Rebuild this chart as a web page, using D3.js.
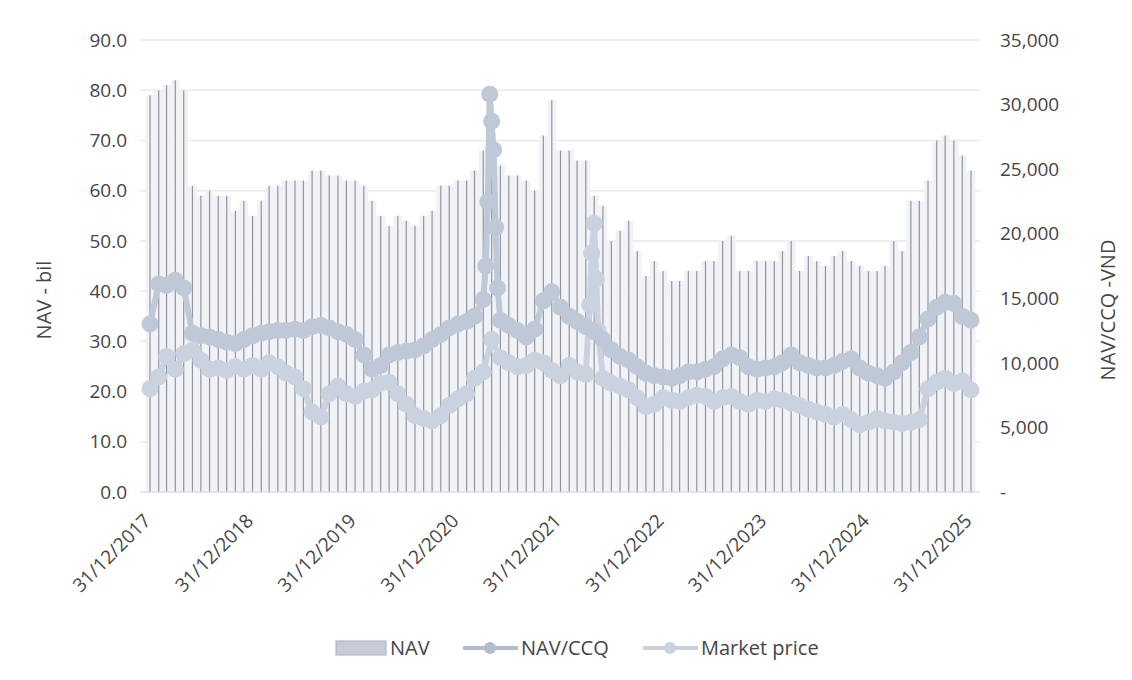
<!DOCTYPE html>
<html>
<head>
<meta charset="utf-8">
<script src="https://cdn.jsdelivr.net/npm/d3@7"></script>
<style>
  body { margin: 0; background: #fff; }
  text { font-family: "Open Sans", sans-serif; fill: #454545; }
</style>
</head>
<body>
<div id="chart"></div>
<script>
// monthly values, month-end from 31/12/2017 to 31/12/2025
const navBil = [
  79, 80, 81, 82, 80, 61, 59, 60, 59, 59, 56, 58, 55,
  58, 61, 61, 62, 62, 62, 64, 64, 63, 63, 62, 62,
  61, 58, 55, 53, 55, 54, 53, 55, 56, 61, 61, 62,
  62, 64, 68, 66, 65, 63, 63, 62, 60, 71, 78, 68,
  68, 66, 66, 59, 57, 50, 52, 54, 48, 43, 46, 44,
  42, 42, 44, 44, 46, 46, 50, 51, 44, 44, 46, 46,
  46, 48, 50, 44, 47, 46, 45, 47, 48, 46, 45, 44,
  44, 45, 50, 48, 58, 58, 62, 70, 71, 70, 67, 64
];

const navCcq = [
  13000, 16100, 16000, 16400, 15800, 12300, 12100, 12000, 11800, 11600, 11500, 11800, 12100,
  12300, 12400, 12500, 12500, 12600, 12500, 12800, 12900, 12700, 12400, 12200, 11800,
  10600, 9500, 9800, 10600, 10800, 10900, 11000, 11300, 11800, 12200, 12700, 13000,
  13200, 13600, 14900, 28700, 13300, 12900, 12500, 12000, 12600, 14800, 15500, 14300,
  13600, 13200, 12800, 12400, 11800, 11000, 10500, 10200, 9700, 9200, 9000, 8900,
  8800, 9000, 9300, 9300, 9500, 9700, 10300, 10600, 10400, 9700, 9500, 9600,
  9700, 10000, 10600, 10000, 9800, 9600, 9600, 9800, 10100, 10300, 9600, 9200,
  9000, 8800, 9300, 10000, 10800, 12000, 13400, 14300, 14700, 14600, 13600, 13300
];

const marketPrice = [
  8000, 8900, 10500, 9500, 10700, 11000, 10200, 9500, 9600, 9400, 9700, 9500, 9800,
  9500, 10000, 9700, 9200, 8900, 8000, 6200, 5800, 7600, 8200, 7600, 7400,
  7800, 7900, 8400, 8500, 7600, 6800, 5900, 5700, 5500, 5900, 6700, 7200,
  7600, 8800, 9300, 11800, 10400, 10000, 9700, 9800, 10200, 10000, 9400, 9000,
  9800, 9300, 9100, 20800, 8800, 8400, 8200, 7900, 7300, 6600, 6800, 7300,
  7100, 7000, 7300, 7500, 7400, 7000, 7300, 7400, 7000, 6800, 7100, 7000,
  7200, 7100, 6900, 6700, 6400, 6200, 6000, 5800, 6000, 5600, 5200, 5400,
  5700, 5500, 5400, 5300, 5400, 5600, 8000, 8500, 8800, 8400, 8600, 7900
];

// weekly points around the two spikes
const navCcqSpikeDates = ["2021-04-09", "2021-04-16", "2021-04-23", "2021-05-07", "2021-05-14", "2021-05-21"];
const navCcqSpikeValues = [17500, 22500, 30800, 26500, 20500, 15800];
const marketSpikeDates = ["2022-04-14", "2022-04-21", "2022-05-07", "2022-05-14"];
const marketSpikeValues = [14500, 18500, 16500, 12500];

const tickYears = [2017, 2018, 2019, 2020, 2021, 2022, 2023, 2024, 2025];
const leftTicks = [0, 10, 20, 30, 40, 50, 60, 70, 80, 90];
const rightTicks = [0, 5000, 10000, 15000, 20000, 25000, 30000, 35000];

const parseDate = d3.timeParse("%Y-%m-%d");
const monthEnds = d3.timeMonth.range(new Date(2017, 11, 1), new Date(2026, 0, 1))
  .map(m => d3.timeDay.offset(d3.timeMonth.offset(m, 1), -1));

const width = 1132;
const height = 680;

const svg = d3.select("#chart").append("svg")
  .attr("width", width)
  .attr("height", height);

const x = d3.scaleTime()
  .domain([new Date(2017, 11, 31), new Date(2025, 11, 31)])
  .range([150, 971]);

const yLeft = d3.scaleLinear().domain([0, 90]).range([492, 40]);
const yRight = d3.scaleLinear().domain([0, 35000]).range([492, 40]);

// gridlines
svg.append("g")
  .selectAll("line")
  .data(leftTicks)
  .join("line")
  .attr("x1", 140)
  .attr("x2", 980)
  .attr("y1", d => yLeft(d))
  .attr("y2", d => yLeft(d))
  .style("stroke", "#e8e9eb")
  .style("stroke-width", 1.5);

// left axis labels
svg.append("g")
  .selectAll("text")
  .data(leftTicks)
  .join("text")
  .attr("x", 127)
  .attr("y", d => yLeft(d))
  .attr("dy", "0.35em")
  .style("text-anchor", "end")
  .style("font-size", "19px")
  .text(d => d3.format(".1f")(d));

// right axis labels
svg.append("g")
  .selectAll("text")
  .data(rightTicks)
  .join("text")
  .attr("x", 1000)
  .attr("y", d => yRight(d))
  .attr("dy", "0.35em")
  .style("text-anchor", "start")
  .style("font-size", "19px")
  .text(d => d === 0 ? "-" : d3.format(",")(d));

svg.append("text")
  .attr("transform", "translate(51, 300) rotate(-90)")
  .style("text-anchor", "middle")
  .style("font-size", "20px")
  .text("NAV - bil");

svg.append("text")
  .attr("transform", "translate(1115, 310) rotate(-90)")
  .style("text-anchor", "middle")
  .style("font-size", "20px")
  .text("NAV/CCQ -VND");

// NAV bars
const barW = (x(monthEnds[1]) - x(monthEnds[0]));
const bars = svg.append("g");
bars.selectAll("rect")
  .data(navBil)
  .join("rect")
  .attr("x", (d, i) => x(monthEnds[i]) - barW / 2)
  .attr("width", barW)
  .attr("y", d => yLeft(d))
  .attr("height", d => yLeft(0) - yLeft(d))
  .style("fill", "#f0f2f5");

bars.selectAll("line")
  .data(navBil)
  .join("line")
  .attr("x1", (d, i) => x(monthEnds[i]))
  .attr("x2", (d, i) => x(monthEnds[i]))
  .attr("y1", d => yLeft(d))
  .attr("y2", yLeft(0))
  .style("stroke", "#90959e")
  .style("stroke-width", 1.2);

// baseline
svg.append("line")
  .attr("x1", 140)
  .attr("x2", 980)
  .attr("y1", yLeft(0))
  .attr("y2", yLeft(0))
  .style("stroke", "#d9dbde");

// x labels
svg.append("g")
  .selectAll("text")
  .data(tickYears)
  .join("text")
  .attr("transform", d => `translate(${x(new Date(d, 11, 31)) + 2}, 522) rotate(-45)`)
  .style("text-anchor", "end")
  .style("font-size", "19px")
  .text(d => `31/12/${d}`);

function buildSeries(values, extraDates, extraValues) {
  const pts = values.map((v, i) => ({ date: monthEnds[i], value: v }));
  extraDates.forEach((d, i) => pts.push({ date: parseDate(d), value: extraValues[i] }));
  return pts.sort((a, b) => a.date - b.date);
}

const series = [
  { name: "Market price", data: buildSeries(marketPrice, marketSpikeDates, marketSpikeValues), color: "#c9d2de" },
  { name: "NAV/CCQ", data: buildSeries(navCcq, navCcqSpikeDates, navCcqSpikeValues), color: "#bec8d6" }
];

const line = d3.line()
  .x(d => x(d.date))
  .y(d => yRight(d.value));

series.forEach(s => {
  svg.append("path")
    .datum(s.data)
    .attr("d", line)
    .style("fill", "none")
    .style("stroke", s.color)
    .style("stroke-width", 6);

  svg.append("g")
    .selectAll("circle")
    .data(s.data)
    .join("circle")
    .attr("cx", d => x(d.date))
    .attr("cy", d => yRight(d.value))
    .attr("r", 8.5)
    .style("fill", s.color);
});

// legend
const legend = svg.append("g");
legend.append("rect")
  .attr("x", 336)
  .attr("y", 641)
  .attr("width", 50)
  .attr("height", 14)
  .style("fill", "#c7cbd8")
  .style("stroke", "#a9aebb");
legend.append("text")
  .attr("x", 390)
  .attr("y", 648)
  .attr("dy", "0.35em")
  .style("font-size", "20px")
  .text("NAV");

[{ x0: 463, label: "NAV/CCQ", color: "#b3bcc9" }, { x0: 643, label: "Market price", color: "#c9d2dd" }]
  .forEach(item => {
    legend.append("line")
      .attr("x1", item.x0)
      .attr("x2", item.x0 + 55)
      .attr("y1", 648)
      .attr("y2", 648)
      .style("stroke", item.color)
      .style("stroke-width", 4);
    legend.append("circle")
      .attr("cx", item.x0 + 27)
      .attr("cy", 648)
      .attr("r", 6)
      .style("fill", item.color);
    legend.append("text")
      .attr("x", item.x0 + 58)
      .attr("y", 648)
      .attr("dy", "0.35em")
      .style("font-size", "20px")
      .text(item.label);
  });
</script>
</body>
</html>
